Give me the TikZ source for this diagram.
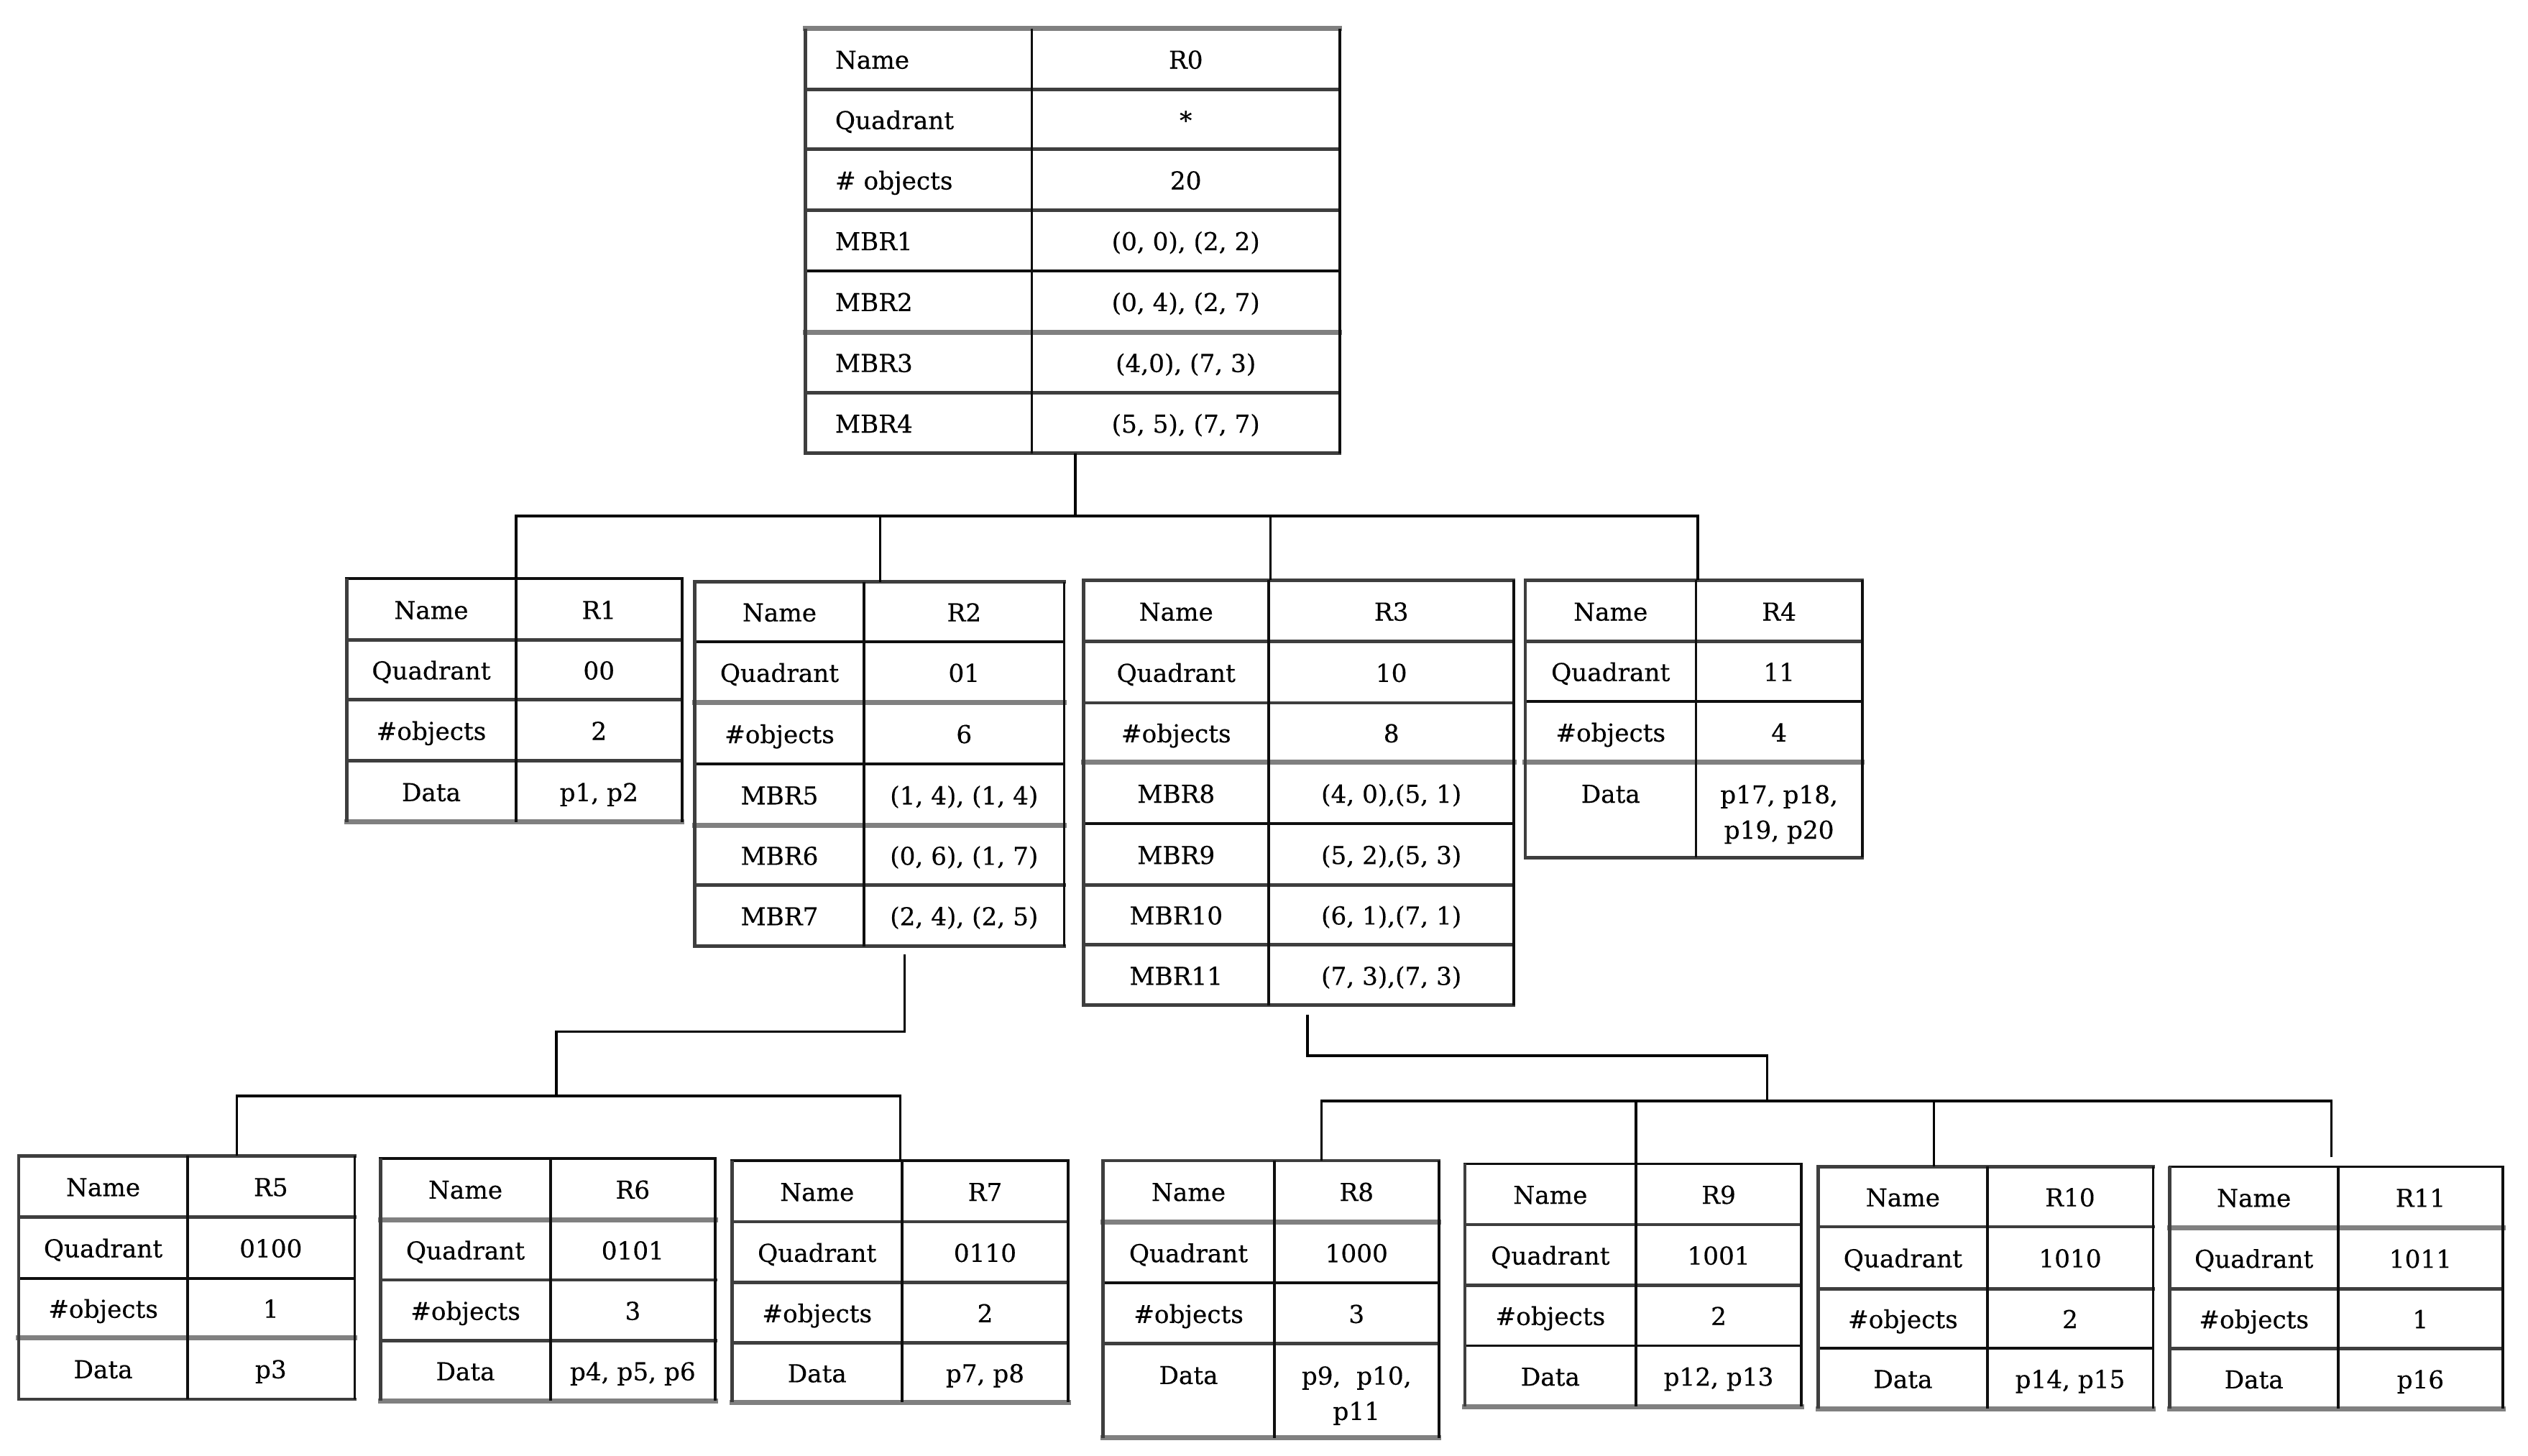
\documentclass[tikz,border=0pt]{standalone}
\usepackage{fontspec}
\setmainfont[FakeBold=0.35]{DejaVu Serif}
\definecolor{lnk}{RGB}{15,15,15}
\definecolor{lnd}{RGB}{62,62,62}
\definecolor{lng}{RGB}{128,128,128}
\newcommand\cellfont{\fontsize{9.75}{14}\selectfont}
\tikzset{
  hk/.style={draw=lnk, line width=1.1pt, line cap=rect},
  hd/.style={draw=lnd, line width=1.3pt, line cap=rect},
  hg/.style={draw=lng, line width=2pt, line cap=rect},
  vk/.style={draw=lnk, line width=1.05pt},
  vd/.style={draw=lnd, line width=1.3pt},
  conn/.style={draw=black, line width=1pt},
  txt/.style={inner sep=0pt, anchor=base, font=\cellfont},
  txtw/.style={inner sep=0pt, anchor=base west, font=\cellfont},
  txtml/.style={inner sep=0pt, anchor=north, align=center, font=\cellfont},
}
% grid: #1 xl, #2 xm, #3 xr, #4 ytop, #5 ybot, #6 list y/style of horizontal lines
\newcommand\tblgrid[6]{%
  \foreach \yy/\st in {#6}{\draw[h\st] (#1,\yy) -- (#3,\yy);}
  \draw[vd] (#1,#4) -- (#1,#5);
  \draw[vk] (#2,#4) -- (#2,#5);
  \draw[vk] (#3,#4) -- (#3,#5);
}
% cells: #1 name, #2 left x, #3 left style, #4 right cx, #5 list ycenter/left/right
\newcommand\tblcells[5]{%
  \foreach \yc/\lt/\rt [count=\i] in {#5}{%
    \node[#3] (#1-l\i) at (#2,\yc+6) {\lt};
    \node[txt] (#1-r\i) at (#4,\yc+6) {\rt};
  }%
}
\begin{document}
\begin{tikzpicture}[x=0.02243cm,y=-0.02243cm]
\fill[white] (0,0) rectangle (1568,903);
\useasboundingbox (0,0) rectangle (1568,903);

% ---------- R0 ----------
\tblgrid{499.5}{640}{831}{17.7}{281.2}{17.7/g,55.6/d,92.6/d,130.5/d,168/k,206/g,243.6/d,281.2/d}
\tblcells{R0}{517.7}{txtw}{735.5}{36.6/Name/R0, 74.1/Quadrant/*, 111.5/\# objects/20,
  149.2/MBR1/{(0, 0), (2, 2)}, 187/MBR2/{(0, 4), (2, 7)}, 224.8/MBR3/{(4,0), (7, 3)}, 262.4/MBR4/{(5, 5), (7, 7)}}

% ---------- R1 ----------
\tblgrid{215}{320}{423}{359}{510}{359/k,397/d,434/d,472/d,510/g}
\tblcells{R1}{267.5}{txt}{371.5}{378/Name/R1, 415.5/Quadrant/00, 453/\#objects/2, 491/Data/{p1, p2}}

% ---------- R2 ----------
\tblgrid{431}{536}{660}{361}{587}{361/d,398/k,436/g,474/k,512/g,549/d,587/d}
\tblcells{R2}{483.5}{txt}{598}{379.5/Name/R2, 417/Quadrant/01, 455/\#objects/6,
  493/MBR5/{(1, 4), (1, 4)}, 530.5/MBR6/{(0, 6), (1, 7)}, 568/MBR7/{(2, 4), (2, 5)}}

% ---------- R3 ----------
\tblgrid{672}{787}{939}{360}{623.5}{360/d,398/d,436/d,473/g,511/k,549/d,586/d,623.5/d}
\tblcells{R3}{729.5}{txt}{863}{379/Name/R3, 417/Quadrant/10, 454.5/\#objects/8,
  492/MBR8/{(4, 0),(5, 1)}, 530/MBR9/{(5, 2),(5, 3)}, 567.5/MBR10/{(6, 1),(7, 1)}, 605/MBR11/{(7, 3),(7, 3)}}

% ---------- R4 ----------
\tblgrid{946}{1052}{1155}{360}{532}{360/d,398/d,435/k,473/g,532/d}
\tblcells{R4}{999}{txt}{1103.5}{379/Name/R4, 416.5/Quadrant/11, 454/\#objects/4}
\node[txt] (R4-l4) at (999,498) {Data};
\node[txtml] (R4-r4) at (1103.5,486.7) {p17, p18,\\p19, p20};

% ---------- R5 ----------
\tblgrid{11.5}{116.5}{220}{717}{868}{717/d,755/d,793/k,830/g,868/d}
\tblcells{R5}{64}{txt}{168}{736/Name/R5, 774/Quadrant/0100, 811.5/\#objects/1, 849/Data/p3}

% ---------- R6 ----------
\tblgrid{236}{341.4}{443.7}{718.6}{869}{718.6/k,756.6/g,794/d,831.6/d,869/g}
\tblcells{R6}{288.7}{txt}{392.5}{737.6/Name/R6, 775.3/Quadrant/0101, 812.8/\#objects/3, 850.3/Data/{p4, p5, p6}}

% ---------- R7 ----------
\tblgrid{454}{559.6}{662.5}{720}{870}{720/k,758/d,795.6/d,833/d,870/g}
\tblcells{R7}{506.8}{txt}{611}{739/Name/R7, 776.8/Quadrant/0110, 814.3/\#objects/2, 851.5/Data/{p7, p8}}

% ---------- R8 ----------
\tblgrid{684}{790.4}{892.5}{720}{892}{720/d,758/g,795.8/k,833.6/d,892/g}
\tblcells{R8}{737.2}{txt}{841.4}{739/Name/R8, 777/Quadrant/1000, 814.7/\#objects/3}
\node[txt] (R8-l4) at (737.2,858.6) {Data};
\node[txtml] (R8-r4) at (841.4,847.3) {p9,\ \ p10,\\p11};

% ---------- R9 ----------
\tblgrid{908.6}{1014.7}{1117.3}{722}{872.5}{722/k,759.6/d,797.4/d,834.8/k,872.5/g}
\tblcells{R9}{961.6}{txt}{1066}{740.8/Name/R9, 778.5/Quadrant/1001, 816/\#objects/2, 853.6/Data/{p12, p13}}

% ---------- R10 ----------
\tblgrid{1127.8}{1232.8}{1335.5}{723.8}{874}{723.8/d,761/d,799.5/d,836.3/k,874/g}
\tblcells{R10}{1180.3}{txt}{1284}{742.4/Name/R10, 780.2/Quadrant/1010, 817.9/\#objects/2, 855.1/Data/{p14, p15}}

% ---------- R11 ----------
\tblgrid{1345.8}{1450.3}{1552.4}{723.8}{874}{723.8/k,761.6/g,799.5/d,836.7/d,874/g}
\tblcells{R11}{1398}{txt}{1501.3}{742.7/Name/R11, 780.5/Quadrant/1011, 818/\#objects/1, 855.3/Data/p16}

% ---------- connectors ----------
\coordinate (R0-out) at (667,281.2);
\coordinate (bus0) at (667,320);
\draw[conn] (R0-out) -- (bus0);
\coordinate (R1-in) at (320,359);
\coordinate (R2-in) at (546,361);
\coordinate (R3-in) at (788,360);
\coordinate (R4-in) at (1053,360);
\foreach \n in {R1,R2,R3,R4} {\draw[conn] (\n-in) |- (bus0);}

\coordinate (R2-out) at (561,592);
\coordinate (bus2) at (345,680);
\draw[conn] (R2-out) -- ++(0,48) -| (bus2);
\coordinate (R5-in) at (147,717);
\coordinate (R7-in) at (558.5,720);
\foreach \n in {R5,R7} {\draw[conn] (\n-in) |- (bus2);}

\coordinate (R3-out) at (811,629.5);
\coordinate (bus3) at (1096,683);
\draw[conn] (R3-out) -- ++(0,25.5) -| (bus3);
\coordinate (R8-in) at (819.6,720);
\coordinate (R9-in) at (1014.7,722);
\coordinate (R10-in) at (1199.5,723.8);
\coordinate (R11-in) at (1446,718);
\foreach \n in {R8,R9,R10,R11} {\draw[conn] (\n-in) |- (bus3);}
\end{tikzpicture}
\end{document}
